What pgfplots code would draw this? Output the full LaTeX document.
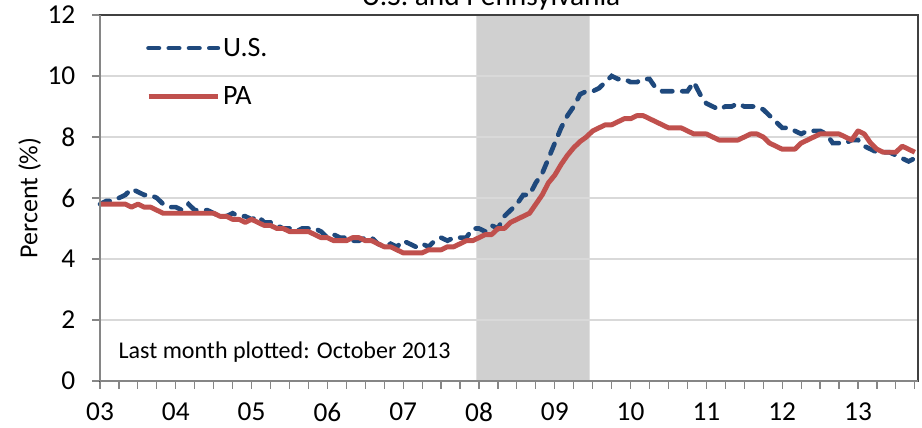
\documentclass[border=0pt]{standalone}
\usepackage{pgfplots}
\pgfplotsset{compat=1.18}
\usepackage{pgfplotstable}
\usepackage{fontspec}
\setmainfont{Carlito}
\definecolor{usblue}{HTML}{1F497D}
\definecolor{pared}{HTML}{C0504D}
\definecolor{recgray}{HTML}{D0D0D0}
\definecolor{gridgray}{HTML}{D9D9D9}
\definecolor{axgray}{HTML}{868686}
\definecolor{boxgray}{HTML}{404040}

% month index 0 = Jan 2003
\pgfplotstableread{
m us pa
0 5.8 5.8
1 5.9 5.8
2 5.9 5.8
3 6.0 5.8
4 6.1 5.8
5 6.3 5.7
6 6.2 5.8
7 6.1 5.7
8 6.1 5.7
9 6.0 5.6
10 5.8 5.5
11 5.7 5.5
12 5.7 5.5
13 5.6 5.5
14 5.8 5.5
15 5.6 5.5
16 5.6 5.5
17 5.6 5.5
18 5.5 5.5
19 5.4 5.4
20 5.4 5.4
21 5.5 5.3
22 5.4 5.3
23 5.4 5.2
24 5.3 5.3
25 5.4 5.2
26 5.2 5.1
27 5.2 5.1
28 5.1 5.0
29 5.0 5.0
30 5.0 4.9
31 4.9 4.9
32 5.0 4.9
33 5.0 4.9
34 5.0 4.8
35 4.9 4.7
36 4.7 4.7
37 4.8 4.6
38 4.7 4.6
39 4.7 4.6
40 4.6 4.7
41 4.6 4.7
42 4.7 4.6
43 4.7 4.6
44 4.5 4.5
45 4.4 4.4
46 4.5 4.4
47 4.4 4.3
48 4.6 4.2
49 4.5 4.2
50 4.4 4.2
51 4.5 4.2
52 4.4 4.3
53 4.6 4.3
54 4.7 4.3
55 4.6 4.4
56 4.7 4.4
57 4.7 4.5
58 4.7 4.6
59 5.0 4.6
60 5.0 4.7
61 4.9 4.8
62 5.1 4.8
63 5.0 5.0
64 5.4 5.0
65 5.6 5.2
66 5.8 5.3
67 6.1 5.4
68 6.1 5.5
69 6.5 5.8
70 6.8 6.1
71 7.3 6.5
72 7.8 6.75
73 8.3 7.1
74 8.7 7.4
75 9.0 7.65
76 9.4 7.85
77 9.5 8.0
78 9.5 8.2
79 9.6 8.3
80 9.8 8.4
81 10.0 8.4
82 9.9 8.5
83 9.9 8.6
84 9.8 8.6
85 9.8 8.7
86 9.9 8.7
87 9.9 8.6
88 9.6 8.5
89 9.5 8.4
90 9.5 8.3
91 9.5 8.3
92 9.5 8.3
93 9.5 8.2
94 9.8 8.1
95 9.4 8.1
96 9.1 8.1
97 9.0 8.0
98 8.9 7.9
99 9.0 7.9
100 9.0 7.9
101 9.1 7.9
102 9.0 8.0
103 9.0 8.1
104 9.0 8.1
105 8.9 8.0
106 8.7 7.8
107 8.5 7.7
108 8.3 7.6
109 8.3 7.6
110 8.2 7.6
111 8.1 7.8
112 8.2 7.9
113 8.2 8.0
114 8.2 8.1
115 8.1 8.1
116 7.8 8.1
117 7.8 8.1
118 7.8 8.0
119 7.9 7.9
120 7.9 8.2
121 7.7 8.1
122 7.6 7.8
123 7.5 7.6
124 7.5 7.5
125 7.5 7.5
126 7.4 7.5
127 7.3 7.7
128 7.2 7.6
129 7.3 7.5
}\datatable

\begin{document}
\begin{tikzpicture}
\begin{axis}[
  set layers=standard,
  scale only axis,
  width=613.5pt, height=274.5pt,
  at={(0,0)}, anchor=south west,
  xmin=0, xmax=129.5,
  ymin=0, ymax=12,
  ytick={0,2,...,12},
  xtick={0,12,...,120},
  xticklabels={03,04,05,06,07,08,09,10,11,12,13},
  minor xtick={3,6,...,129},
  tick align=outside,
  major tick length=6pt,
  minor tick length=6pt,
  tick style={axgray, line width=0.9pt},
  minor tick style={axgray, line width=0.9pt},
  xtick pos=bottom, ytick pos=left,
  ymajorgrids,
  major grid style={gridgray, line width=1.1pt},
  axis line style={boxgray, line width=1pt},
  /pgf/number format/assume math mode=true,
  ticklabel style={font=\fontsize{20.5pt}{24pt}\selectfont},
  yticklabel style={xshift=-9pt},
  xticklabel style={yshift=-7pt},
  ylabel={Percent (\%)},
  ylabel style={font=\fontsize{19.5pt}{23pt}\selectfont},
  ylabel shift=-2pt,
  legend style={draw=none, fill=none, at={(rel axis cs:0.056,0.945)}, anchor=north west,
    font=\fontsize{21pt}{25pt}\selectfont, row sep=17pt, inner sep=0pt},
  legend cell align=left,
  legend image code/.code={\draw[#1] (0pt,0pt) -- (52pt,0pt);},
  clip=false,
]
\addplot[fill=recgray, draw=none, forget plot, on layer=axis background]
  coordinates {(59.6,0) (59.6,12) (77.5,12) (77.5,0)} \closedcycle;
\addplot[usblue, line width=3.5pt, line cap=round, dash pattern=on 7.8pt off 7.4pt] table[x=m, y=us] {\datatable};
\addlegendentry{U.S.}
\addplot[pared, line width=3.7pt, line join=round] table[x=m, y=pa] {\datatable};
\addlegendentry{PA}
\draw[axgray, line width=1.5pt] (rel axis cs:0,0) -- (rel axis cs:0,1);
\draw[axgray, line width=1.5pt] (rel axis cs:0,0) -- (rel axis cs:1,0);
\node[anchor=west, font=\fontsize{18pt}{21pt}\selectfont] at (rel axis cs:0.017,0.079) {Last month plotted: October 2013};
\node[anchor=base, font=\fontsize{22pt}{26pt}\selectfont] at (rel axis cs:0.478,1.025) {U.S. and Pennsylvania};
\end{axis}
\pgfresetboundingbox
\path[use as bounding box] (-75pt,-35.25pt) rectangle (616.5pt,285.75pt);
\end{tikzpicture}
\end{document}
